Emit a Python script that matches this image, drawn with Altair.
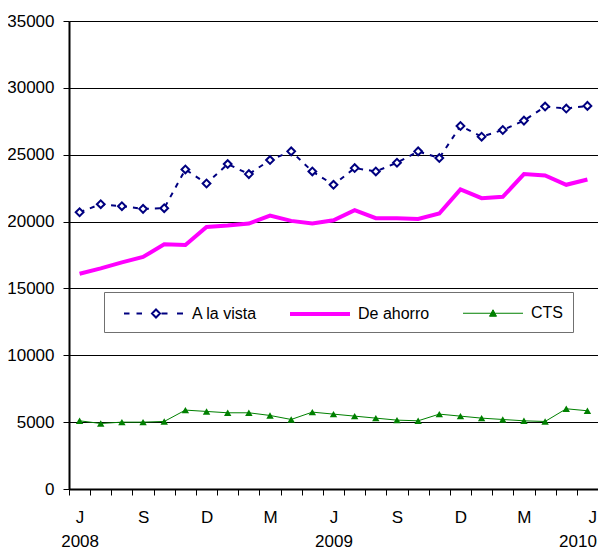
import altair as alt
import pandas as pd

months = ["2008-06", "2008-07", "2008-08", "2008-09", "2008-10", "2008-11", "2008-12",
          "2009-01", "2009-02", "2009-03", "2009-04", "2009-05", "2009-06", "2009-07",
          "2009-08", "2009-09", "2009-10", "2009-11", "2009-12",
          "2010-01", "2010-02", "2010-03", "2010-04", "2010-05", "2010-06"]
month_initials = ["J", "", "", "S", "", "", "D", "", "", "M", "", "",
                  "J", "", "", "S", "", "", "D", "", "", "M", "", "", "J"]
year_labels = ["2008", "", "", "", "", "", "", "", "", "", "", "",
               "2009", "", "", "", "", "", "", "", "", "", "", "", "2010"]

series_names = ["A la vista", "De ahorro", "CTS"]
a_la_vista = [20700, 21300, 21150, 20950, 21000, 23900, 22850, 24300, 23550, 24600,
              25250, 23750, 22750, 24000, 23750, 24400, 25250, 24750, 27150, 26350,
              26850, 27550, 28600, 28450, 28650]
de_ahorro = [16100, 16500, 16950, 17350, 18300, 18250, 19600, 19700, 19850, 20450,
             20050, 19850, 20100, 20850, 20250, 20250, 20200, 20600, 22400, 21750,
             21850, 23550, 23450, 22750, 23150]
cts = [5100, 4900, 5000, 5000, 5050, 5900, 5800, 5700, 5700, 5500,
       5200, 5750, 5600, 5450, 5300, 5150, 5100, 5600, 5450, 5300,
       5200, 5100, 5050, 6000, 5850]
y_ticks = [0, 5000, 10000, 15000, 20000, 25000, 30000, 35000]

NAVY, MAGENTA, GREEN = "#000080", "#FF00FF", "#008000"
FONT = "Liberation Sans"
FS = 17
LFS = 16

rows = []
for name, vals in zip(series_names, [a_la_vista, de_ahorro, cts]):
    for m, v in zip(months, vals):
        rows.append({"month": m, "series": name, "value": v})
df = pd.DataFrame(rows)

# x-axis label expression (month initial, plus year on a second line)
parts = []
for m, ini, yr in zip(months, month_initials, year_labels):
    if ini and yr:
        parts.append(f"datum.value == '{m}' ? ['{ini}', '{yr}']")
    elif ini:
        parts.append(f"datum.value == '{m}' ? '{ini}'")
label_expr = " : ".join(parts) + " : ''"
last_month = months[-1]

x_enc = alt.X(
    "month:O", sort=months,
    scale=alt.Scale(type="band", domain=months, paddingInner=0, paddingOuter=0),
    axis=alt.Axis(title=None, tickBand="extent", labelExpr=label_expr, labelAngle=0,
                  labelFontSize=FS, labelFont=FONT, labelColor="black", labelPadding=14,
                  labelLineHeight=24, labelOverlap=False, tickSize=6, tickColor="black",
                  labelAlign={"condition": {"test": f"datum.value === '{last_month}'",
                                            "value": "right"}, "value": "center"},
                  labelOffset={"condition": {"test": f"datum.value === '{last_month}'",
                                             "value": 9}, "value": 0},
                  domainColor="black", domainWidth=2, grid=False),
)
y_enc = alt.Y(
    "value:Q", scale=alt.Scale(domain=[0, 35000], nice=False),
    axis=alt.Axis(title=None, values=y_ticks, format="d", labelFontSize=FS, labelFont=FONT,
                  labelColor="black", labelPadding=9, tickSize=6, tickColor="black",
                  domainColor="black", domainWidth=2, grid=True, gridColor="black",
                  gridWidth=1),
)

# legend symbol paths (line + marker), units scaled by sqrt(size)/2
p_blue = ("M-3,0H-2.45M-1.75,0H-1.2M0.2,-0.4L0.6,0L0.2,0.4L-0.2,0Z"
          "M0.75,0H1.35M2.3,0H2.9")
p_pink = "M-3,0H3"
p_green = "M-3,0H3M0,-0.35L0.35,0.3L-0.35,0.3Z"

legend = alt.Legend(
    title=None, orient="none", legendX=35, legendY=271, direction="horizontal",
    columns=3, fillColor="white", strokeColor="#707070", padding=10, columnPadding=23,
    symbolSize=400, symbolOffset=28, labelOffset=26, labelFontSize=LFS, labelFont=FONT,
    labelColor="black", symbolOpacity=1,
)

legend_layer = alt.Chart(df).transform_filter("false").mark_point(
    size=400, opacity=1, filled=False
).encode(
    x=x_enc, y=y_enc,
    stroke=alt.Stroke("series:N", scale=alt.Scale(domain=series_names,
                      range=[NAVY, MAGENTA, GREEN]), legend=legend),
    fill=alt.Fill("series:N", scale=alt.Scale(domain=series_names,
                  range=["white", "transparent", GREEN]), legend=legend),
    shape=alt.Shape("series:N", scale=alt.Scale(domain=series_names,
                    range=[p_blue, p_pink, p_green]), legend=legend),
    strokeWidth=alt.StrokeWidth("series:N", scale=alt.Scale(type="ordinal",
                                domain=series_names, range=[2, 4, 1]), legend=legend),
)

line_blue = alt.Chart(df[df.series == "A la vista"]).mark_line(
    color=NAVY, strokeWidth=2, strokeDash=[5, 6]).encode(x=x_enc, y=y_enc)
line_pink = alt.Chart(df[df.series == "De ahorro"]).mark_line(
    color=MAGENTA, strokeWidth=4).encode(x=x_enc, y=y_enc)
line_green = alt.Chart(df[df.series == "CTS"]).mark_line(
    color=GREEN, strokeWidth=1).encode(x=x_enc, y=y_enc)

blue_pts = alt.Chart(df[df.series == "A la vista"]).mark_point(
    shape="diamond", filled=True, fill="white", stroke=NAVY, strokeWidth=2,
    size=60, opacity=1).encode(x=x_enc, y=y_enc)

green_pts = alt.Chart(df[df.series == "CTS"]).mark_point(
    shape="triangle-up", filled=True, fill=GREEN, size=55, opacity=1
).encode(x=x_enc, y=y_enc)

chart = alt.layer(line_pink, line_green, line_blue, blue_pts, green_pts,
                  legend_layer).properties(
    width=529, height=468,
    padding={"left": 61, "top": 13, "right": 0, "bottom": 61},
    autosize="none",
).configure_view(stroke="black", strokeWidth=2).configure(background="white")

chart.save("out.html", embed_options={"renderer": "svg", "actions": False})
